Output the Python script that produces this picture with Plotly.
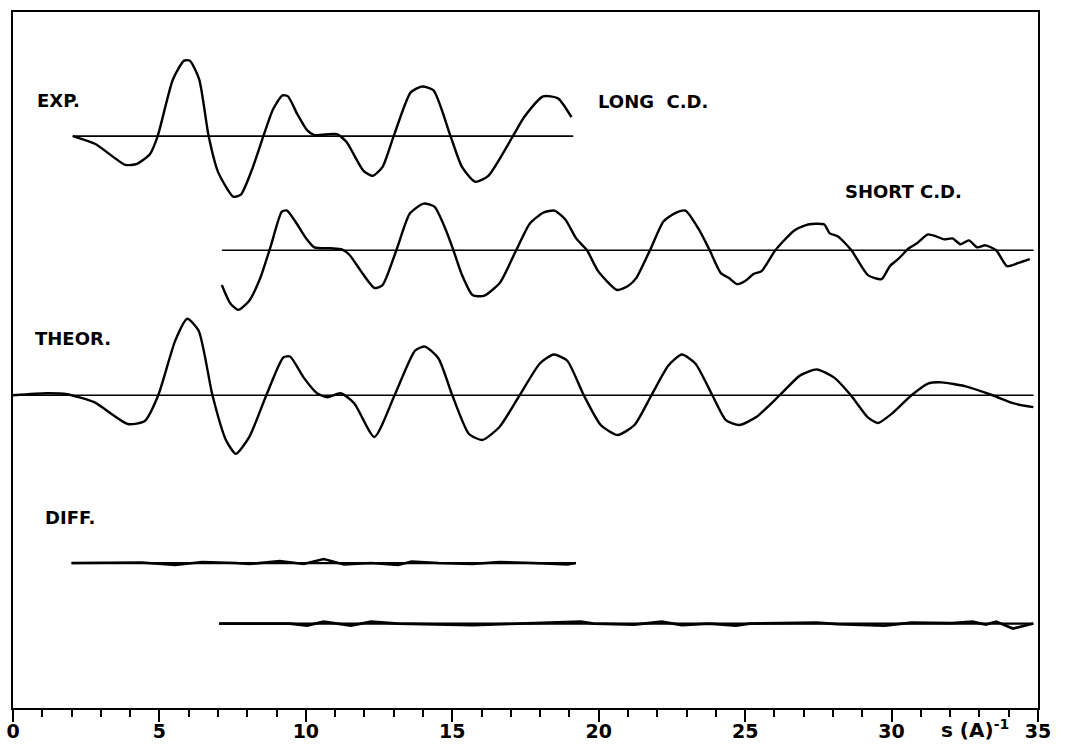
import plotly.graph_objects as go

# ---------------- data (s in A^-1, amplitudes in arbitrary plot units) ----------------
exp_s = [2.04, 2.81, 3.84, 4.23, 4.68, 4.94, 5.46, 5.84, 6.04, 6.36, 6.68, 7.0, 7.52, 7.78, 8.17,
         8.55, 8.88, 9.2, 9.39, 9.71, 10.04, 10.29, 10.81, 11.07, 11.39, 11.97, 12.29, 12.62, 13.0,
         13.58, 13.97, 14.36, 14.94, 15.33, 15.78, 16.23, 17.07, 17.45, 18.1, 18.61, 19.07]
exp_v = [0, -8, -29, -28, -18, 0, 57, 76, 76, 57, 0, -36, -61, -59, -33, 0, 27, 41, 40, 22, 6, 1,
         2, 2, -6, -35, -40, -31, 0, 44, 50, 46, 0, -31, -46, -40, 0, 19, 40, 38, 19]

short_s = [7.13, 7.41, 7.69, 8.06, 8.43, 8.8, 9.18, 9.36, 9.64, 10.01, 10.29, 10.85, 11.23, 11.5,
           11.88, 12.34, 12.62, 13.09, 13.55, 14.02, 14.39, 14.76, 15.04, 15.32, 15.69, 16.07,
           16.62, 17.18, 17.65, 18.11, 18.49, 18.86, 19.23, 19.6, 19.98, 20.63, 21.0, 21.28,
           21.75, 22.21, 22.58, 22.96, 23.42, 23.79, 24.17, 24.45, 24.72, 25.0, 25.28, 25.56,
           26.03, 26.68, 27.15, 27.7, 27.89, 28.17, 28.63, 29.19, 29.66, 29.94, 30.22, 30.59,
           30.87, 31.24, 31.52, 31.8, 32.08, 32.36, 32.64, 32.92, 33.2, 33.57, 33.94, 34.31, 34.72]
short_v = [-35, -53, -60, -51, -29, 4, 39, 40, 29, 12, 3, 2, 1, -5, -21, -38, -35, 0, 37, 47, 44,
           22, 0, -24, -45, -46, -33, 0, 27, 38, 40, 31, 12, 0, -21, -40, -36, -28, 0, 29, 37,
           40, 21, 0, -23, -28, -34, -31, -24, -21, 0, 20, 26, 26, 17, 14, 0, -25, -29, -16, -9,
           2, 7, 16, 14, 11, 12, 6, 10, 3, 5, 0, -16, -13, -9]

theor_s = [0, 1.15, 1.85, 2.77, 3.92, 4.5, 4.96, 5.54, 5.95, 6.34, 6.81, 7.27, 7.61, 8.07, 8.65,
           9.23, 9.46, 9.92, 10.38, 10.73, 11.19, 11.65, 12.34, 13.03, 13.73, 14.07, 14.53, 15.0,
           15.57, 16.03, 16.61, 17.3, 17.99, 18.46, 18.92, 19.49, 20.07, 20.65, 21.22, 21.8,
           22.38, 22.84, 23.3, 23.88, 24.34, 24.8, 25.38, 26.18, 26.88, 27.45, 28.03, 28.61,
           29.18, 29.53, 29.99, 30.68, 31.26, 31.72, 32.53, 33.45, 34.14, 34.84]
theor_v = [0, 2, 1, -7, -29, -26, 0, 55, 77, 65, 0, -45, -59, -42, 0, 38, 39, 18, 2, -2, 2, -8,
           -42, 0, 45, 49, 37, 0, -39, -45, -32, 0, 32, 41, 35, 0, -30, -40, -30, 0, 30, 41, 32,
           0, -25, -30, -22, 0, 20, 26, 18, 0, -22, -28, -19, 0, 12, 13, 9, 0, -8, -12]

diffL_s = [2.0, 4.38, 5.54, 6.46, 7.61, 8.07, 9.11, 9.92, 10.61, 11.3, 12.23, 13.15, 13.61, 14.53,
           15.69, 16.61, 17.76, 18.92, 19.22]
diffL_v = [0, 0.5, -2, 1, 0, -1, 2, -1, 4, -1.5, 0, -2, 1.5, 0, -1, 1, 0, -1.5, 0]

diffS_s = [7.04, 9.46, 10.04, 10.61, 11.54, 12.23, 13.15, 15.69, 17.3, 19.38, 19.84, 21.22, 22.15,
           22.84, 23.76, 24.69, 25.15, 27.45, 28.15, 29.76, 30.68, 32.07, 32.76, 33.22, 33.57,
           34.14, 34.84]
diffS_v = [0, 0, -2, 2, -2, 2, 0, -1.5, 0, 2, 0, -1, 2, -1.5, 0, -2, 0, 1, -0.5, -2, 1, 0.5, 2,
           -1, 2, -5, 0]

tick_vals = [0, 5, 10, 15, 20, 25, 30, 35]
tick_text = ["0", "5", "10", "15", "20", "25", "30", "35"]

# ---------------- figure ----------------
fig = go.Figure()
BLACK = "#000000"

def add_curve(s, v, offset, smooth=True, width=2.4):
    fig.add_trace(go.Scatter(
        x=s, y=[offset + a for a in v], mode="lines",
        line=dict(color=BLACK, width=width,
                  shape="spline" if smooth else "linear",
                  smoothing=0.6 if smooth else None),
        hoverinfo="skip", showlegend=False))

def add_base(x0, x1, offset, width=1.6):
    fig.add_trace(go.Scatter(
        x=[x0, x1], y=[offset, offset], mode="lines",
        line=dict(color=BLACK, width=width), hoverinfo="skip", showlegend=False))

OFF_EXP, OFF_SHORT, OFF_THEOR, OFF_DL, OFF_DS = 576, 461, 315, 146, 85

add_base(exp_s[0], exp_s[-1] + 0.06, OFF_EXP)
add_curve(exp_s, exp_v, OFF_EXP)
add_base(short_s[0], 34.85, OFF_SHORT)
add_curve(short_s, short_v, OFF_SHORT)
add_base(0, 34.85, OFF_THEOR)
add_curve(theor_s, theor_v, OFF_THEOR)
add_base(diffL_s[0], diffL_s[-1], OFF_DL, width=2.2)
add_curve(diffL_s, diffL_v, OFF_DL, smooth=False, width=2.6)
add_base(diffS_s[0], diffS_s[-1], OFF_DS, width=2.2)
add_curve(diffS_s, diffS_v, OFF_DS, smooth=False, width=2.6)

label_font = dict(family="DejaVu Sans", size=18, color=BLACK, weight="bold")
labels = [
    ("EXP.", 0.74, 612),
    ("LONG  C.D.", 19.9, 611),
    ("SHORT C.D.", 28.33, 520),
    ("THEOR.", 0.69, 372),
    ("DIFF.", 1.02, 192),
]
for txt, xx, yy in labels:
    fig.add_annotation(x=xx, y=yy, xref="x", yref="y", text=txt, showarrow=False,
                       xanchor="left", yanchor="middle", font=label_font)

fig.add_annotation(x=32.85, y=0, xref="x", yref="paper", yshift=-21,
                   text="s (A)<sup>-1</sup>",
                   showarrow=False, xanchor="center", yanchor="middle",
                   font=dict(family="DejaVu Sans", size=20, color=BLACK, weight="bold"))

fig.update_layout(
    width=1067, height=748,
    margin=dict(l=6, r=29, t=12, b=10),
    paper_bgcolor="white", plot_bgcolor="white",
    xaxis=dict(range=[0, 35], showline=True, linewidth=2, linecolor=BLACK, mirror=True,
               showgrid=False, zeroline=False, ticks="outside", ticklen=12, tickwidth=2,
               tickcolor=BLACK, tickvals=tick_vals, ticktext=tick_text, ticklabelstandoff=-7,
               ticklabeloverflow="allow",
               tickfont=dict(family="DejaVu Sans", size=19, color=BLACK, weight="bold"),
               minor=dict(dtick=1, ticks="outside", ticklen=7, tickwidth=2, tickcolor=BLACK,
                          showgrid=False)),
    yaxis=dict(range=[0, 701], showline=True, linewidth=2, linecolor=BLACK, mirror=True,
               showgrid=False, zeroline=False, showticklabels=False, ticks=""),
)

fig.write_html("out.html", config={"displayModeBar": False},
               post_script="document.body.style.margin='0px';")
